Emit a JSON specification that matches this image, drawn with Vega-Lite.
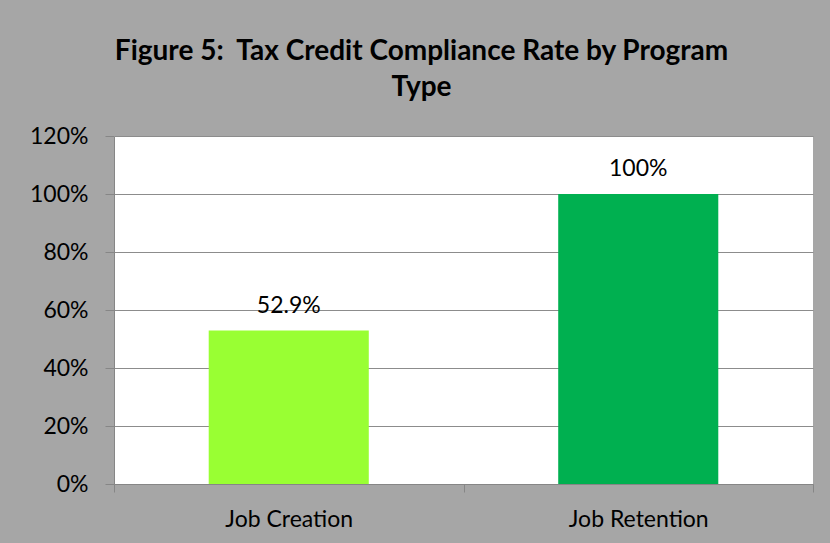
{
  "$schema": "https://vega.github.io/schema/vega-lite/v6.json",
  "width": 699,
  "height": 348,
  "autosize": "none",
  "padding": {"left": 114, "top": 136, "right": 17, "bottom": 59},
  "background": "#a6a6a6",
  "config": {
    "view": {"fill": "white", "stroke": null},
    "font": "Lato"
  },
  "title": {
    "text": ["Figure 5:\u00a0 Tax Credit Compliance Rate by Program", "Type"],
    "font": "Lato",
    "fontSize": 28,
    "fontWeight": "bold",
    "color": "black",
    "lineHeight": 36,
    "anchor": "middle",
    "frame": "bounds",
    "offset": 23
  },
  "data": {
    "values": [
      {"program": "Job Creation", "rate": 0.529, "label": "52.9%"},
      {"program": "Job Retention", "rate": 1.0, "label": "100%"}
    ]
  },
  "encoding": {
    "x": {
      "field": "program",
      "type": "nominal",
      "sort": null,
      "scale": {"paddingInner": 0, "paddingOuter": 0},
      "axis": {
        "title": null,
        "labelAngle": 0,
        "labelFontSize": 23,
        "labelColor": "black",
        "labelPadding": 16,
        "tickBand": "extent",
        "tickSize": 8,
        "tickColor": "#868686",
        "domainColor": "#868686",
        "labelFont": "Lato"
      }
    },
    "y": {
      "field": "rate",
      "type": "quantitative",
      "scale": {"domain": [0, 1.2]},
      "axis": {
        "title": null,
        "values": [0, 0.2, 0.4, 0.6, 0.8, 1.0, 1.2],
        "format": ".0%",
        "labelFontSize": 23,
        "labelColor": "black",
        "labelPadding": 17,
        "tickSize": 9,
        "tickColor": "#868686",
        "domainColor": "#868686",
        "gridColor": "#8c8c8c",
        "gridOpacity": 1,
        "labelFont": "Lato"
      }
    }
  },
  "layer": [
    {
      "mark": {"type": "bar", "width": {"band": 0.458}},
      "encoding": {
        "color": {
          "field": "program",
          "type": "nominal",
          "scale": {"domain": ["Job Creation", "Job Retention"], "range": ["#99ff33", "#00b050"]},
          "legend": null
        }
      }
    },
    {
      "mark": {"type": "text", "baseline": "alphabetic", "dy": -18, "fontSize": 23, "color": "black", "font": "Lato"},
      "encoding": {"text": {"field": "label"}}
    }
  ]
}
